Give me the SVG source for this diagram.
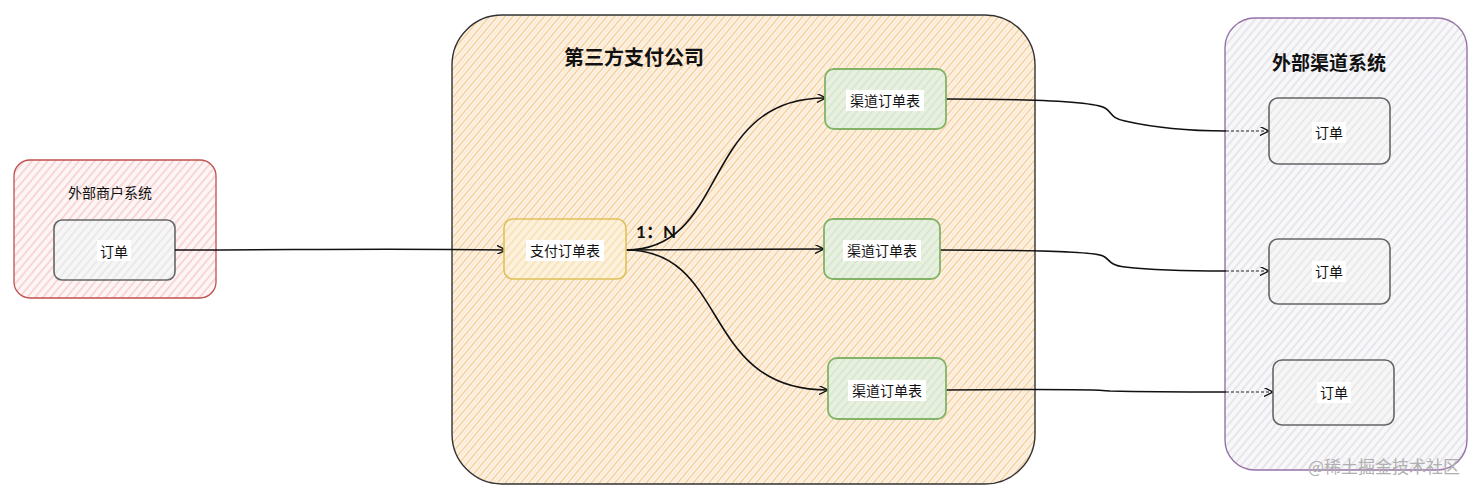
<svg xmlns="http://www.w3.org/2000/svg" width="1481" height="491" viewBox="0 0 1481 491">
<defs>
<pattern id="hOrange" patternUnits="userSpaceOnUse" width="6" height="6" patternTransform="rotate(-50)">
<rect width="6" height="6" fill="#fdf6ec"/>
<line x1="0" y1="1.5" x2="6" y2="1.5" stroke="#f5cc96" stroke-width="1.5"/>
<line x1="0" y1="4.5" x2="6" y2="4.5" stroke="#f9e0c0" stroke-width="0.8"/>
</pattern>
<pattern id="hRed" patternUnits="userSpaceOnUse" width="6" height="6" patternTransform="rotate(-50)">
<rect width="6" height="6" fill="#fef6f6"/>
<line x1="0" y1="2" x2="6" y2="2" stroke="#f3c2c0" stroke-width="1.2"/>
</pattern>
<pattern id="hPurple" patternUnits="userSpaceOnUse" width="6" height="6" patternTransform="rotate(-50)">
<rect width="6" height="6" fill="#f8f7fa"/>
<line x1="0" y1="2" x2="6" y2="2" stroke="#dcd9e0" stroke-width="1.1"/>
</pattern>
<pattern id="hGreen" patternUnits="userSpaceOnUse" width="6" height="6" patternTransform="rotate(-50)">
<rect width="6" height="6" fill="#e8f1e1"/>
<line x1="0" y1="2" x2="6" y2="2" stroke="#d2e4c6" stroke-width="1.3"/>
</pattern>
<pattern id="hYellow" patternUnits="userSpaceOnUse" width="6" height="6" patternTransform="rotate(-50)">
<rect width="6" height="6" fill="#fcf1dc"/>
<line x1="0" y1="2" x2="6" y2="2" stroke="#f6dcaa" stroke-width="1.3"/>
</pattern>
<pattern id="hGray" patternUnits="userSpaceOnUse" width="6" height="6" patternTransform="rotate(-50)">
<rect width="6" height="6" fill="#f7f6f6"/>
<line x1="0" y1="2" x2="6" y2="2" stroke="#e0dddd" stroke-width="1.1"/>
</pattern>
<marker id="arr" viewBox="0 0 10 10" refX="9" refY="5" markerWidth="9" markerHeight="9" markerUnits="userSpaceOnUse" orient="auto">
<path d="M0,0 L10,5 L0,10" fill="none" stroke="#111" stroke-width="1.5"/>
</marker>
</defs>
<style>
.t{font-family:"Noto Sans CJK SC","Noto Sans",sans-serif;fill:#111;text-anchor:middle;dominant-baseline:central}
.s{font-size:14px}
.lab{fill:#fff}
.conn{fill:none;stroke:#111;stroke-width:1.6}
.dash{fill:none;stroke:#222;stroke-width:1.1;stroke-dasharray:3 2}
.inner{stroke:#666;stroke-width:1.6;fill:url(#hGray)}
.green{stroke:#82b366;stroke-width:1.8;fill:url(#hGreen)}
</style>
<rect width="1481" height="491" fill="#fff"/>

<g id="merchant">
<rect x="14" y="160" width="202" height="138" rx="16" fill="url(#hRed)" stroke="#c0504d" stroke-width="1.3"/>
<text class="t s" x="110" y="192">外部商户系统</text>
</g>
<g id="merchant-order">
<rect x="54" y="220" width="121" height="60" rx="8" class="inner"/>
<rect x="97" y="240" width="34" height="21" class="lab"/>
<text class="t s" x="114" y="251">订单</text>
</g>

<g id="payco">
<rect x="452" y="15" width="583" height="469" rx="50" fill="url(#hOrange)" stroke="#333" stroke-width="1.4"/>
<text class="t" x="634" y="56" style="font-size:20px;font-weight:700">第三方支付公司</text>
</g>

<g id="channel">
<rect x="1225" y="18" width="242" height="452" rx="30" fill="url(#hPurple)" stroke="#9673a6" stroke-width="1.4"/>
<text class="t" x="1329" y="61" style="font-size:19px;font-weight:600">外部渠道系统</text>
</g>

<g id="connectors">
<path class="conn" d="M175,250 C300,250 380,248 505,250" marker-end="url(#arr)"/>
<path class="conn" d="M626,250 C730,250 700,98 825,98" marker-end="url(#arr)"/>
<path class="conn" d="M626,250 L823,249" marker-end="url(#arr)"/>
<path class="conn" d="M626,250 C730,250 700,390 827,390" marker-end="url(#arr)"/>
<path class="conn" d="M946,99 C1040,99 1095,102 1105,108 C1112,112 1110,118 1125,121 C1160,129 1200,131 1226,131"/>
<line class="dash" x1="1226" y1="131" x2="1268" y2="131" marker-end="url(#arr)"/>
<path class="conn" d="M940,250 C1030,250 1095,252 1103,256 C1110,259 1108,265 1125,267 C1160,271 1200,271 1226,271"/>
<line class="dash" x1="1226" y1="271" x2="1268" y2="271" marker-end="url(#arr)"/>
<path class="conn" d="M946,390 C1050,389 1100,390 1110,391 C1150,392 1200,392 1226,392"/>
<line class="dash" x1="1226" y1="392" x2="1272" y2="392" marker-end="url(#arr)"/>
</g>

<g id="pay-order">
<rect x="504" y="219" width="122" height="60" rx="9" fill="url(#hYellow)" stroke="#e0c05a" stroke-width="1.6"/>
<rect x="526" y="240" width="78" height="21" class="lab"/>
<text class="t s" x="565" y="250">支付订单表</text>
</g>
<text x="656" y="231" style="font-family:Lato,'Noto Sans CJK SC',sans-serif;font-size:17px;font-weight:700;fill:#111;text-anchor:middle;dominant-baseline:central">1：N</text>

<g id="ch-order-1">
<rect x="825" y="69" width="121" height="60" rx="9" class="green"/>
<rect x="846" y="90" width="78" height="21" class="lab"/>
<text class="t s" x="885" y="100">渠道订单表</text>
</g>
<g id="ch-order-2">
<rect x="824" y="219" width="116" height="60" rx="9" class="green"/>
<rect x="843" y="240" width="78" height="21" class="lab"/>
<text class="t s" x="882" y="250">渠道订单表</text>
</g>
<g id="ch-order-3">
<rect x="828" y="358" width="118" height="61" rx="9" class="green"/>
<rect x="848" y="380" width="78" height="21" class="lab"/>
<text class="t s" x="887" y="390">渠道订单表</text>
</g>

<g id="ext-order-1">
<rect x="1269" y="98" width="121" height="66" rx="9" class="inner"/>
<rect x="1312" y="122" width="34" height="21" class="lab"/>
<text class="t s" x="1329" y="132">订单</text>
</g>
<g id="ext-order-2">
<rect x="1269" y="239" width="121" height="65" rx="9" class="inner"/>
<rect x="1312" y="261" width="34" height="21" class="lab"/>
<text class="t s" x="1329" y="271">订单</text>
</g>
<g id="ext-order-3">
<rect x="1273" y="360" width="121" height="65" rx="9" class="inner"/>
<rect x="1317" y="382" width="34" height="21" class="lab"/>
<text class="t s" x="1334" y="392">订单</text>
</g>

<text class="t" x="1384" y="465" style="font-size:17px;fill:#b0b0b0">@稀土掘金技术社区</text>
</svg>
